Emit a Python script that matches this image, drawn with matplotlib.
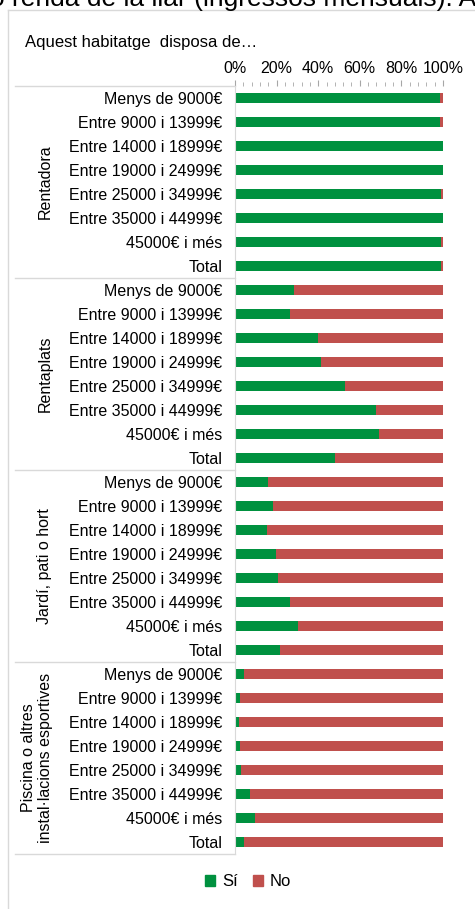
import matplotlib.pyplot as plt
import matplotlib.transforms as mtransforms
from matplotlib.lines import Line2D
from matplotlib.patches import Patch
from matplotlib.ticker import MultipleLocator, FuncFormatter
import numpy as np

plt.rcParams['font.family'] = ['Liberation Sans', 'DejaVu Sans']

# data
groups = ['Rentadora', 'Rentaplats', 'Jardí, pati o hort',
          'Piscina o altres\ninstal·lacions esportives']
income = ['Menys de 9000€', 'Entre 9000 i 13999€', 'Entre 14000 i 18999€',
          'Entre 19000 i 24999€', 'Entre 25000 i 34999€', 'Entre 35000 i 44999€',
          '45000€ i més', 'Total']
si_rentadora = [98.5, 98.5, 99.8, 100.0, 99.0, 100.0, 99.0, 99.0]
si_rentaplats = [28.5, 26.6, 40.1, 41.3, 52.9, 67.9, 69.4, 48.1]
si_jardi = [15.9, 18.4, 15.2, 19.7, 20.8, 26.6, 30.4, 21.5]
si_piscina = [4.5, 2.4, 1.8, 2.4, 3.0, 7.4, 9.5, 4.2]

si = np.array(si_rentadora + si_rentaplats + si_jardi + si_piscina)
no = 100 - si
labels = income * len(groups)

green = '#00913F'
red = '#C0504D'
grid = '#D9D9D9'

W, H = 475, 909
fig = plt.figure(figsize=(W / 100, H / 100), dpi=100)
ax = fig.add_axes([235 / W, 1 - 854 / H, 208 / W, 768 / H])

y = np.arange(len(si))
ax.barh(y, si, height=0.4, color=green)
ax.barh(y, no, left=si, height=0.4, color=red)

ax.set_xlim(0, 100)
ax.set_ylim(len(si) - 0.5, -0.5)
ax.set_yticks(y)
ax.set_yticklabels(labels, fontsize=11.5)
ax.tick_params(axis='y', length=0, pad=9)

ax.xaxis.tick_top()
ax.xaxis.set_major_locator(MultipleLocator(20))
ax.xaxis.set_minor_locator(MultipleLocator(4))
ax.xaxis.set_major_formatter(FuncFormatter(lambda v, p: '%d%%' % v))
ax.tick_params(axis='x', which='major', length=4, color='#A6A6A6', labelsize=11.5, pad=3)
ax.tick_params(axis='x', which='minor', length=3, color='#A6A6A6')

for s in ['top', 'right', 'bottom']:
    ax.spines[s].set_visible(False)
ax.spines['left'].set_color(grid)

# group separators and labels
tr = mtransforms.blended_transform_factory(ax.transAxes, ax.transData)
x0 = (15 - 235) / 208
for k in range(len(groups) + 1):
    yy = k * len(income) - 0.5
    ax.plot([x0, 0], [yy, yy], color=grid, lw=1, transform=tr, clip_on=False)

trf = mtransforms.blended_transform_factory(fig.transFigure, ax.transData)
for k, g in enumerate(groups):
    yc = k * len(income) + (len(income) - 1) / 2
    xc = 37 if '\n' in g else 45
    ax.text(xc / W, yc, g, rotation=90, ha='center', va='center',
            fontsize=11.5, transform=trf, linespacing=1.1)

# frame
fig.add_artist(Line2D([8 / W, 8 / W], [0, 1 - 10 / H], color=grid, lw=1))
fig.add_artist(Line2D([8 / W, 1], [1 - 10 / H, 1 - 10 / H], color=grid, lw=1))

# titles
fig.text(25 / W, 1 - 43 / H, 'Aquest habitatge  disposa de…', fontsize=12,
         ha='left', va='center')
fig.text(-10 / W, 1 - 6 / H, 'o renda de la llar (ingressos mensuals). A',
         fontsize=19, ha='left', va='baseline')

# legend
handles = [Patch(color=green, label='Sí'), Patch(color=red, label='No')]
fig.legend(handles=handles, loc='center', bbox_to_anchor=(248 / W, 1 - 882 / H),
           ncol=2, frameon=False, fontsize=12, handlelength=0.6, handleheight=0.6,
           handletextpad=0.4, columnspacing=0.9)

fig.savefig('out.png', dpi=100)
